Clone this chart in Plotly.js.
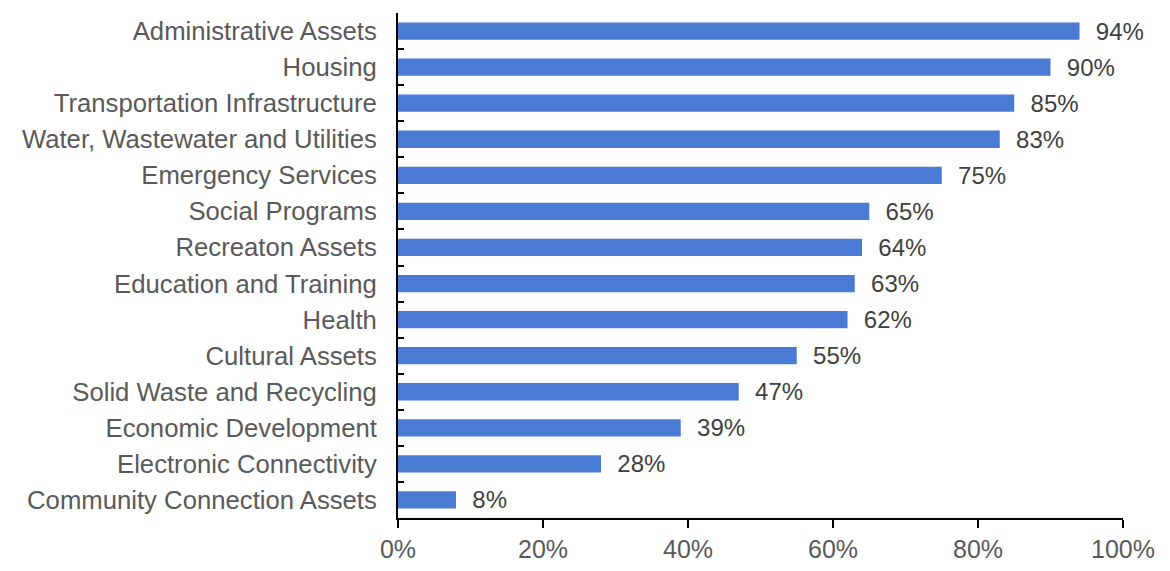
<!DOCTYPE html>
<html>
<head>
<meta charset="utf-8">
<script src="https://cdn.plot.ly/plotly-3.0.1.min.js"></script>
<style>
  html, body { margin: 0; padding: 0; background: #fff; }
  #chart { width: 1170px; height: 571px; }
</style>
</head>
<body>
<div id="chart"></div>
<script>
// categories top to bottom, share of respondents (%)
const categories = [
  'Administrative Assets',
  'Housing',
  'Transportation Infrastructure',
  'Water, Wastewater and Utilities',
  'Emergency Services',
  'Social Programs',
  'Recreaton Assets',
  'Education and Training',
  'Health',
  'Cultural Assets',
  'Solid Waste and Recycling',
  'Economic Development',
  'Electronic Connectivity',
  'Community Connection Assets'
];
const values = [94, 90, 85, 83, 75, 65, 64, 63, 62, 55, 47, 39, 28, 8];
const xTicks = [0, 20, 40, 60, 80, 100];
const xTickText = xTicks.map(v => v + '%');

const trace = {
  type: 'bar',
  orientation: 'h',
  x: values,
  y: categories,
  marker: { color: '#4a7bd4' },
  text: values.map(v => '\u00a0\u00a0' + v + '%'),
  textposition: 'outside',
  constraintext: 'none',
  cliponaxis: false,
  textfont: { family: 'Liberation Sans, Arial, sans-serif', size: 24, color: '#404040' },
  hoverinfo: 'none'
};

const layout = {
  width: 1170,
  height: 571,
  margin: { l: 398, r: 47, t: 13, b: 53 },
  paper_bgcolor: '#fff',
  plot_bgcolor: '#fff',
  showlegend: false,
  bargap: 0.52,
  font: { family: 'Liberation Sans, Arial, sans-serif', size: 24, color: '#595959' },
  xaxis: {
    range: [0, 100],
    tickmode: 'array',
    tickvals: xTicks,
    ticktext: xTickText,
    showgrid: false,
    zeroline: false,
    showline: true,
    linecolor: '#000',
    linewidth: 2,
    ticks: 'outside',
    ticklen: 8,
    tickwidth: 2,
    tickcolor: '#000',
    tickfont: { size: 25, color: '#595959' }
  },
  yaxis: {
    autorange: 'reversed',
    showgrid: false,
    zeroline: false,
    showline: true,
    linecolor: '#000',
    linewidth: 2,
    ticks: 'inside',
    tickson: 'boundaries',
    ticklen: 6,
    tickwidth: 2,
    tickcolor: '#000',
    ticklabelstandoff: 14,
    tickfont: { size: 25.7, color: '#595959' }
  }
};

Plotly.newPlot('chart', [trace], layout, { staticPlot: true });
</script>
</body>
</html>
